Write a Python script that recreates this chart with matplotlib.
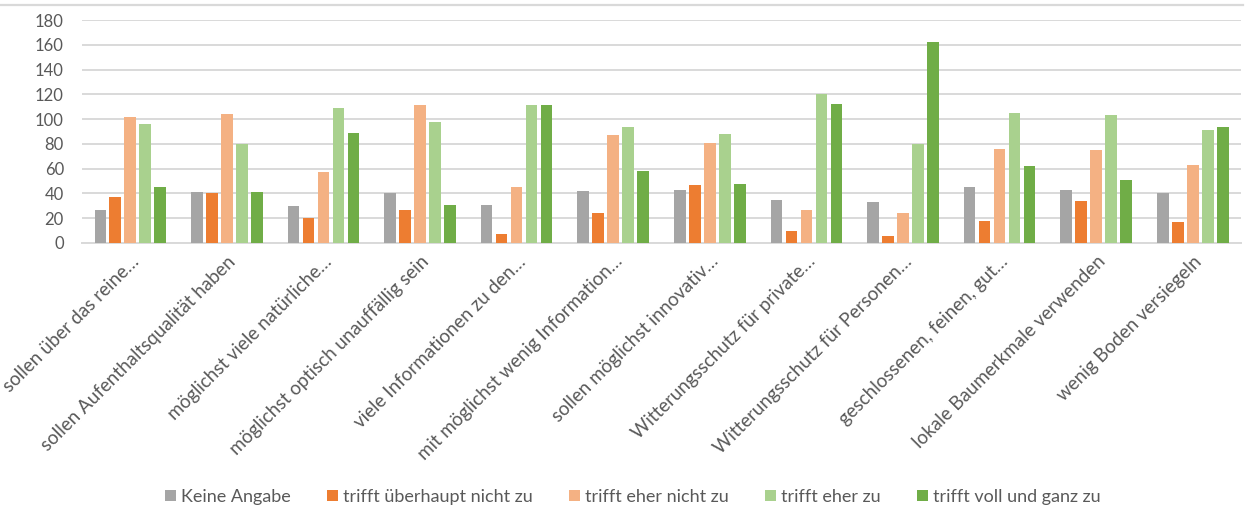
import matplotlib.pyplot as plt
from matplotlib.lines import Line2D
import numpy as np

plt.rcParams["font.family"] = ["Lato", "DejaVu Sans"]

categories = [
    "sollen über das reine…",
    "sollen Aufenthaltsqualität haben",
    "möglichst viele natürliche…",
    "möglichst optisch unauffällig sein",
    "viele Informationen zu den…",
    "mit möglichst wenig Information…",
    "sollen möglichst innovativ…",
    "Witterungsschutz für private…",
    "Witterungsschutz für Personen…",
    "geschlossenen, feinen, gut…",
    "lokale Baumerkmale verwenden",
    "wenig Boden versiegeln",
]

keine_angabe = [27, 41, 30, 40, 31, 42, 43, 35, 33, 45, 43, 40]
ueberhaupt_nicht = [37, 40, 20, 27, 7, 24, 47, 10, 6, 18, 34, 17]
eher_nicht = [102, 104, 57, 111, 45, 87, 81, 27, 24, 76, 75, 63]
eher_zu = [96, 80, 109, 98, 111, 94, 88, 120, 80, 105, 103, 91]
voll_und_ganz = [45, 41, 89, 31, 111, 58, 48, 112, 162, 62, 51, 94]

series = [
    ("Keine Angabe", keine_angabe, "#A5A5A5"),
    ("trifft überhaupt nicht zu", ueberhaupt_nicht, "#ED7D31"),
    ("trifft eher nicht zu", eher_nicht, "#F4B183"),
    ("trifft eher zu", eher_zu, "#A9D18E"),
    ("trifft voll und ganz zu", voll_und_ganz, "#70AD47"),
]

fig = plt.figure(figsize=(12.53, 5.08), dpi=100)
ax = fig.add_axes([0.0654, 0.5217, 0.9251, 0.4389])

x = np.arange(len(categories))
pitch = 0.155
for i, (label, values, color) in enumerate(series):
    ax.bar(x + (i - 2) * pitch, values, width=0.12, color=color, label=label, zorder=3)

ax.set_xlim(-0.5, len(categories) - 0.5)
ax.set_ylim(0, 180)
ax.set_yticks(range(0, 181, 20))
ax.grid(axis="y", color="#D9D9D9", linewidth=1.4, zorder=0)
ax.grid(axis="x", visible=False)
for side in ["top", "right", "left"]:
    ax.spines[side].set_visible(False)
ax.spines["bottom"].set_color("#D9D9D9")
ax.spines["bottom"].set_linewidth(1.4)
ax.tick_params(axis="y", length=0, pad=13, labelsize=12, labelcolor="#595959")
ax.tick_params(axis="x", length=0, pad=7)
ax.set_xticks(x)
ax.set_xticklabels(categories, rotation=45, ha="right", va="top",
                   rotation_mode="anchor", fontsize=13.5, color="#595959")

fig.legend(loc="center", bbox_to_anchor=(0.505, 0.0217), ncol=5, frameon=False,
           fontsize=13, handlelength=0.6, handleheight=0.6, handletextpad=0.3,
           columnspacing=2.0, labelcolor="#595959")

# thin chart border along the top
fig.add_artist(Line2D([0, 0.992], [1 - 5 / 508, 1 - 5 / 508], color="#D9D9D9",
                      linewidth=1.6, transform=fig.transFigure))

fig.savefig("out.png", dpi=100)
